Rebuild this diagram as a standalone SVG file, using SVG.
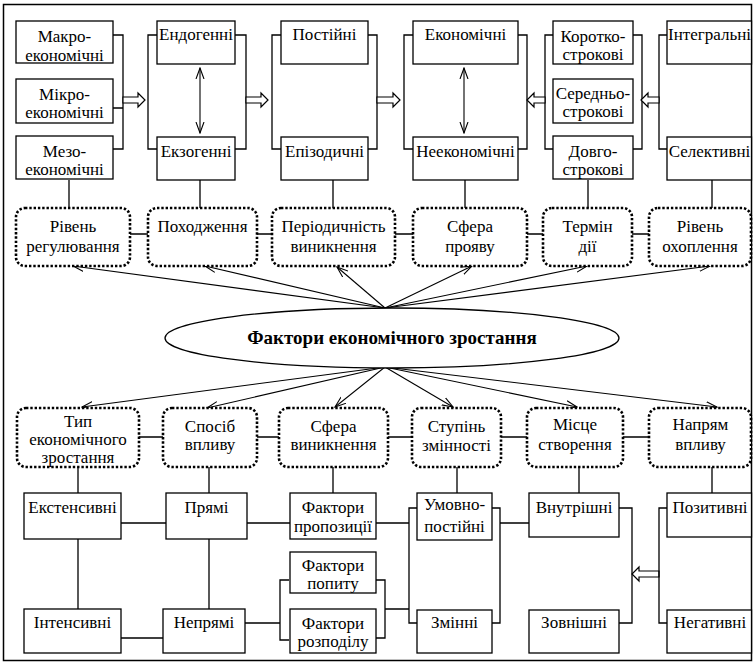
<svg xmlns="http://www.w3.org/2000/svg" width="754" height="664" viewBox="0 0 754 664">
<defs>
<style>
text{font-family:"Liberation Serif","Times New Roman",serif;font-size:17px;fill:#000;text-anchor:middle}
.b{fill:#fff;stroke:#000;stroke-width:1.3}
.d{fill:#fff;stroke:#000;stroke-width:2.6;stroke-dasharray:2.4 1.9}
.c{fill:none;stroke:#000;stroke-width:1.3}
.a{fill:none;stroke:#000;stroke-width:1.1;marker-end:url(#ah)}
.h{fill:#fff;stroke:#000;stroke-width:1.2}
.t{font-weight:bold;font-size:19px}
</style>
<marker id="ah" viewBox="0 0 12 10" refX="11" refY="5" markerWidth="12" markerHeight="10" markerUnits="userSpaceOnUse" orient="auto-start-reverse">
<path d="M0,1 L11,5 L0,9" fill="none" stroke="#000" stroke-width="1.1"/>
</marker>
</defs>
<rect x="3.5" y="4.5" width="748" height="656" fill="#fff" stroke="#000" stroke-width="1.5"/>
<g id="connectors">
<path class="c" d="M113,35 H123 V149 H113 M113,108 H123"/>
<path class="c" d="M157,35 H148 V149 H157 M235,35 H246 V149 H235"/>
<path class="c" d="M281,35 H272 V149 H281 M368,35 H377 V149 H368"/>
<path class="c" d="M413,35 H404 V149 H413 M518,35 H527 V149 H518"/>
<path class="c" d="M553,35 H545 V149 H553 M633,35 H642 V149 H633"/>
<path class="c" d="M667,35 H659 V149 H667"/>
<path class="h" d="M123,97 H138 V93 L145,100 L138,107 V103 H123 Z"/>
<path class="h" d="M246,97 H261 V93 L268,100 L261,107 V103 H246 Z"/>
<path class="h" d="M377,97 H393 V93 L400,100 L393,107 V103 H377 Z"/>
<path class="h" d="M545,97 H534 V93 L527,100 L534,107 V103 H545 Z"/>
<path class="h" d="M659,97 H648 V93 L641,100 L648,107 V103 H659 Z"/>
<path class="h" d="M659,571 H639 V567 L632,574 L639,581 V577 H659 Z"/>
<line class="a" x1="200" y1="68" x2="200" y2="133" style="marker-start:url(#ah)"/>
<line class="a" x1="464" y1="68" x2="464" y2="133" style="marker-start:url(#ah)"/>
<path class="c" d="M69,180 V208 M200,180 V208 M333,180 V208 M465,180 V208 M588,180 V208 M712,180 V208"/>
<path class="c" d="M130,234 H148 M257,234 H272 M395,234 H413 M527,234 H543 M632,234 H649"/>
<line class="a" x1="385" y1="308" x2="73" y2="266"/>
<line class="a" x1="385" y1="308" x2="205" y2="266"/>
<line class="a" x1="385" y1="308" x2="337" y2="267"/>
<line class="a" x1="385" y1="308" x2="472" y2="266"/>
<line class="a" x1="385" y1="308" x2="587" y2="266"/>
<line class="a" x1="385" y1="308" x2="710" y2="266"/>
<line class="a" x1="385" y1="367" x2="82" y2="407"/>
<line class="a" x1="385" y1="367" x2="207" y2="408"/>
<line class="a" x1="385" y1="367" x2="335" y2="407"/>
<line class="a" x1="385" y1="367" x2="453" y2="407"/>
<line class="a" x1="385" y1="367" x2="577" y2="407"/>
<line class="a" x1="385" y1="367" x2="717" y2="407"/>
<path class="c" d="M139,437 H163 M257,437 H279 M388,437 H412 M501,437 H527 M623,437 H649"/>
<path class="c" d="M78,467 V493 M209,467 V493 M333,467 V493 M457,467 V493 M579,467 V493 M712,467 V493"/>
<path class="c" d="M78,539 V609 M209,539 V609 M121,523 H166 M121,638 H163 M247,523 H290"/>
<path class="c" d="M245,623 H280 M289,580 H280 V640 H289"/>
<path class="c" d="M376,580 H385 V638 H376 M385,609 H409 M376,523 H409"/>
<path class="c" d="M417,508 H409 V623 H417 M492,508 H500 V623 H492 M500,523 H529"/>
<path class="c" d="M619,508 H632 V623 H619"/>
<path class="c" d="M667,508 H659 V623 H667"/>
</g>
<g id="n-makro"><rect class="b" x="16" y="21" width="97" height="42"/><text x="64.5" y="42">Макро-</text><text x="64.5" y="61">економічні</text></g>
<g id="n-mikro"><rect class="b" x="16" y="79" width="97" height="44"/><text x="64.5" y="100">Мікро-</text><text x="64.5" y="118">економічні</text></g>
<g id="n-mezo"><rect class="b" x="16" y="136" width="97" height="43"/><text x="64.5" y="157">Мезо-</text><text x="64.5" y="175">економічні</text></g>
<g id="n-endo"><rect class="b" x="157" y="21" width="78" height="43"/><text x="196" y="40">Ендогенні</text></g>
<g id="n-ekzo"><rect class="b" x="157" y="137" width="78" height="43"/><text x="196" y="157">Екзогенні</text></g>
<g id="n-post"><rect class="b" x="281" y="21" width="87" height="43"/><text x="324.5" y="40">Постійні</text></g>
<g id="n-epiz"><rect class="b" x="281" y="137" width="87" height="43"/><text x="324.5" y="157">Епізодичні</text></g>
<g id="n-econ"><rect class="b" x="413" y="21" width="105" height="43"/><text x="465.5" y="40">Економічні</text></g>
<g id="n-neecon"><rect class="b" x="413" y="137" width="105" height="43"/><text x="465.5" y="157">Неекономічні</text></g>
<g id="n-korot"><rect class="b" x="553" y="21" width="80" height="43"/><text x="593" y="42">Коротко-</text><text x="593" y="60">строкові</text></g>
<g id="n-sered"><rect class="b" x="553" y="79" width="80" height="44"/><text x="593" y="99">Середньо-</text><text x="593" y="117">строкові</text></g>
<g id="n-dovgo"><rect class="b" x="553" y="136" width="80" height="43"/><text x="593" y="157">Довго-</text><text x="593" y="175">строкові</text></g>
<g id="n-integ"><rect class="b" x="667" y="21" width="84.5" height="43"/><text x="709.5" y="40">Інтегральні</text></g>
<g id="n-select"><rect class="b" x="667" y="137" width="84.5" height="43"/><text x="709.5" y="157">Селективні</text></g>
<g id="n-rivreg"><rect class="d" x="16" y="208" width="114" height="58" rx="9"/><text x="73" y="232">Рівень</text><text x="73" y="252">регулювання</text></g>
<g id="n-pohod"><rect class="d" x="148" y="208" width="109" height="58" rx="9"/><text x="202.5" y="232">Походження</text></g>
<g id="n-period"><rect class="d" x="272" y="208" width="123" height="58" rx="9"/><text x="333.5" y="232">Періодичність</text><text x="333.5" y="252">виникнення</text></g>
<g id="n-sfpr"><rect class="d" x="413" y="208" width="114" height="58" rx="9"/><text x="470" y="232">Сфера</text><text x="470" y="252">прояву</text></g>
<g id="n-termin"><rect class="d" x="543" y="208" width="89" height="58" rx="9"/><text x="587.5" y="232">Термін</text><text x="587.5" y="252">дії</text></g>
<g id="n-rivoh"><rect class="d" x="649" y="208" width="102" height="58" rx="9"/><text x="700" y="232">Рівень</text><text x="700" y="252">охоплення</text></g>
<g id="n-main"><ellipse cx="392" cy="338" rx="227" ry="30" fill="#fff" stroke="#000" stroke-width="1.3"/><text class="t" x="392" y="344">Фактори економічного зростання</text></g>
<g id="n-typ"><rect class="d" x="17" y="408" width="122" height="59" rx="9"/><text x="78" y="427">Тип</text><text x="78" y="445">економічного</text><text x="78" y="463">зростання</text></g>
<g id="n-sposib"><rect class="d" x="163" y="408" width="94" height="59" rx="9"/><text x="210" y="432">Спосіб</text><text x="210" y="450">впливу</text></g>
<g id="n-sfvyn"><rect class="d" x="279" y="408" width="109" height="59" rx="9"/><text x="333.5" y="432">Сфера</text><text x="333.5" y="450">виникнення</text></g>
<g id="n-stup"><rect class="d" x="412" y="408" width="89" height="59" rx="9"/><text x="456.5" y="432">Ступінь</text><text x="456.5" y="451">змінності</text></g>
<g id="n-misce"><rect class="d" x="527" y="408" width="96" height="59" rx="9"/><text x="575" y="430">Місце</text><text x="575" y="450">створення</text></g>
<g id="n-napr"><rect class="d" x="649" y="408" width="102" height="59" rx="9"/><text x="700.5" y="430">Напрям</text><text x="700.5" y="450">впливу</text></g>
<g id="n-ekst"><rect class="b" x="24" y="493" width="97" height="46"/><text x="72.5" y="513">Екстенсивні</text></g>
<g id="n-int"><rect class="b" x="24" y="609" width="97" height="44"/><text x="72.5" y="628">Інтенсивні</text></g>
<g id="n-pryami"><rect class="b" x="166" y="493" width="81" height="46"/><text x="206.5" y="513">Прямі</text></g>
<g id="n-nepryami"><rect class="b" x="163" y="609" width="82" height="44"/><text x="204" y="628">Непрямі</text></g>
<g id="n-fprop"><rect class="b" x="290" y="493" width="86" height="46"/><text x="333" y="513">Фактори</text><text x="333" y="532">пропозиції</text></g>
<g id="n-fpop"><rect class="b" x="290" y="552" width="86" height="41"/><text x="333" y="571">Фактори</text><text x="333" y="589">попиту</text></g>
<g id="n-froz"><rect class="b" x="290" y="609" width="86" height="44"/><text x="333" y="629">Фактори</text><text x="333" y="647">розподілу</text></g>
<g id="n-umov"><rect class="b" x="417" y="493" width="75" height="47"/><text x="454.5" y="510">Умовно-</text><text x="454.5" y="532">постійні</text></g>
<g id="n-zminni"><rect class="b" x="417" y="610" width="75" height="43"/><text x="454.5" y="628">Змінні</text></g>
<g id="n-vnut"><rect class="b" x="529" y="493" width="90" height="44"/><text x="574" y="513">Внутрішні</text></g>
<g id="n-zovn"><rect class="b" x="529" y="610" width="90" height="43"/><text x="574" y="628">Зовнішні</text></g>
<g id="n-pozyt"><rect class="b" x="667" y="493" width="84.5" height="44"/><text x="710" y="513">Позитивні</text></g>
<g id="n-negat"><rect class="b" x="667" y="610" width="84.5" height="43"/><text x="710" y="628">Негативні</text></g>
</svg>
